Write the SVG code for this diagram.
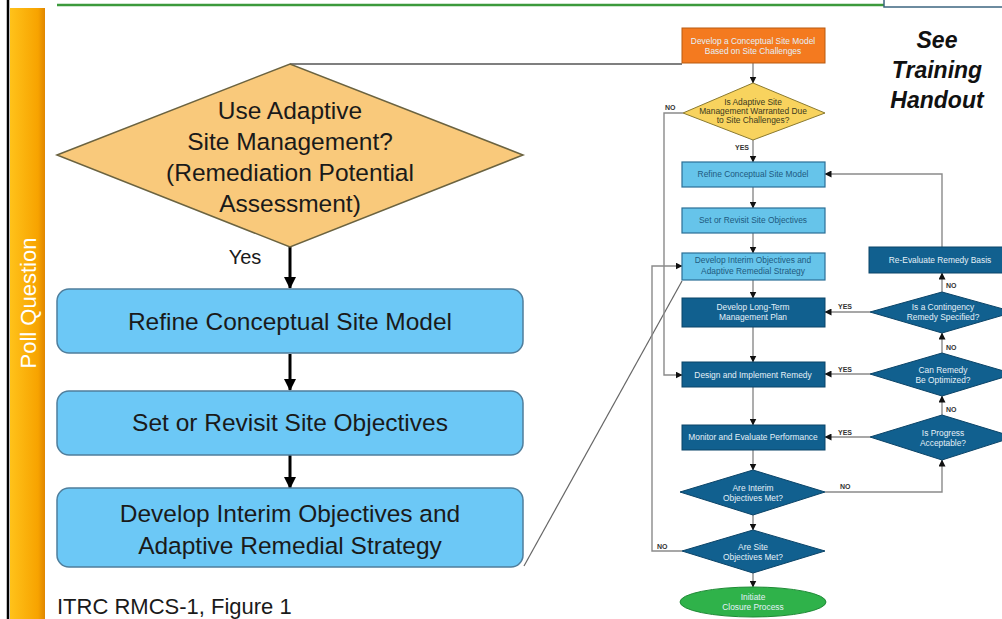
<svg xmlns="http://www.w3.org/2000/svg" width="1002" height="619" viewBox="0 0 1002 619">
<defs>
<linearGradient id="bar" x1="0" y1="0" x2="1" y2="0">
<stop offset="0" stop-color="#FFC21A"/>
<stop offset="0.8" stop-color="#F7A300"/>
<stop offset="1" stop-color="#E08600"/>
</linearGradient>
<marker id="big" markerUnits="userSpaceOnUse" markerWidth="12" markerHeight="12" refX="11" refY="6" orient="auto">
<path d="M0,0 L12,6 L0,12 Z" fill="#000"/>
</marker>
<marker id="sm" markerUnits="userSpaceOnUse" markerWidth="7" markerHeight="7" refX="6.5" refY="3.5" orient="auto">
<path d="M0,0 L7,3.5 L0,7 Z" fill="#111"/>
</marker>
</defs>
<style>
.big{font-family:"Liberation Sans",Arial,sans-serif;fill:#1a1a1a;text-anchor:middle}
.sm{font-family:"Liberation Sans",Arial,sans-serif;font-size:8.4px;text-anchor:middle}
.lb{fill:#1E5A80}
.wt{fill:#E4F0F8}
.lab{font-family:"Liberation Sans",Arial,sans-serif;font-size:7px;font-weight:bold;fill:#333}
.bbox{fill:#6CC8F6;stroke:#4F7E9C;stroke-width:1.5}
.lbox{fill:#66C4EA;stroke:#2A6F96;stroke-width:1.2}
.dbox{fill:#11608F;stroke:#0B4468;stroke-width:1}
.con{fill:none;stroke:#8A8A8A;stroke-width:1.4}
.bcon{fill:none;stroke:#000;stroke-width:3}
</style>
<rect width="1002" height="619" fill="#fff"/>
<!-- frame -->
<g id="frame">
<rect x="10" y="8" width="35" height="611" fill="url(#bar)"/>
<line x1="8" y1="0" x2="8" y2="619" stroke="#000" stroke-width="2.5"/>
<line x1="57" y1="5" x2="884" y2="5" stroke="#3C9A3C" stroke-width="2.5"/>
<rect x="884" y="-4" width="122" height="11" fill="#fff" stroke="#3D6580" stroke-width="1.5"/>
<text x="28" y="303" transform="rotate(-90 28 303)" font-family="'Liberation Sans',Arial,sans-serif" font-size="22" fill="#fff" text-anchor="middle" dominant-baseline="central">Poll Question</text>
</g>
<!-- connectors -->
<g id="connectors">
<line class="bcon" x1="290" y1="247" x2="290" y2="288" marker-end="url(#big)"/>
<line class="bcon" x1="290" y1="354" x2="290" y2="390" marker-end="url(#big)"/>
<line class="bcon" x1="290" y1="455" x2="290" y2="488" marker-end="url(#big)"/>
<polyline fill="none" stroke="#555" stroke-width="1.3" points="290,64 682,64"/>
<line x1="524" y1="566" x2="682" y2="281" stroke="#666" stroke-width="1.2"/>
<line class="con" x1="753" y1="63" x2="753" y2="83" marker-end="url(#sm)"/>
<line class="con" x1="753" y1="140" x2="753" y2="162" marker-end="url(#sm)"/>
<line class="con" x1="753" y1="187" x2="753" y2="208" marker-end="url(#sm)"/>
<line class="con" x1="753" y1="233" x2="753" y2="253" marker-end="url(#sm)"/>
<line class="con" x1="753" y1="280" x2="753" y2="298" marker-end="url(#sm)"/>
<line class="con" x1="753" y1="327" x2="753" y2="362" marker-end="url(#sm)"/>
<line class="con" x1="753" y1="387" x2="753" y2="425" marker-end="url(#sm)"/>
<line class="con" x1="753" y1="450" x2="753" y2="470" marker-end="url(#sm)"/>
<line class="con" x1="753" y1="515" x2="753" y2="530" marker-end="url(#sm)"/>
<line class="con" x1="753" y1="573" x2="753" y2="587" marker-end="url(#sm)"/>
<polyline class="con" points="683,113 664,113 664,375 682,375" marker-end="url(#sm)"/>
<polyline class="con" points="682,551 652,551 652,266 682,266" marker-end="url(#sm)"/>
<polyline class="con" points="825,492 942,492 942,460" marker-end="url(#sm)"/>
<line class="con" x1="942" y1="415" x2="942" y2="396" marker-end="url(#sm)"/>
<line class="con" x1="942" y1="353" x2="942" y2="333" marker-end="url(#sm)"/>
<line class="con" x1="942" y1="292" x2="942" y2="273" marker-end="url(#sm)"/>
<polyline class="con" points="942,247 942,174 825,174" marker-end="url(#sm)"/>
<line class="con" x1="870" y1="312" x2="825" y2="312" marker-end="url(#sm)"/>
<line class="con" x1="870" y1="374" x2="825" y2="374" marker-end="url(#sm)"/>
<line class="con" x1="870" y1="437" x2="825" y2="437" marker-end="url(#sm)"/>
<text class="big" x="245" y="264" font-size="20">Yes</text>
<text class="lab" x="665" y="110">NO</text>
<text class="lab" x="735" y="150">YES</text>
<text class="lab" x="838" y="309">YES</text>
<text class="lab" x="838" y="372">YES</text>
<text class="lab" x="838" y="435">YES</text>
<text class="lab" x="946" y="288">NO</text>
<text class="lab" x="946" y="350">NO</text>
<text class="lab" x="946" y="412">NO</text>
<text class="lab" x="840" y="489">NO</text>
<text class="lab" x="657" y="549">NO</text>
</g>
<!-- left flowchart -->
<g id="big-decision">
<polygon points="57,155 290,64 523,155 290,247" fill="#F9C97B" stroke="#6B6340" stroke-width="1.5"/>
<text class="big" font-size="24.5"><tspan x="290" y="119">Use Adaptive</tspan><tspan x="290" y="150">Site Management?</tspan><tspan x="290" y="181">(Remediation Potential</tspan><tspan x="290" y="212">Assessment)</tspan></text>
</g>
<g id="big-refine">
<rect class="bbox" x="57" y="289" width="466" height="64" rx="12"/>
<text class="big" x="290" y="330" font-size="24.5">Refine Conceptual Site Model</text>
</g>
<g id="big-set">
<rect class="bbox" x="57" y="391" width="466" height="64" rx="12"/>
<text class="big" x="290" y="431" font-size="24.5">Set or Revisit Site Objectives</text>
</g>
<g id="big-develop">
<rect class="bbox" x="57" y="488" width="466" height="79" rx="12"/>
<text class="big" font-size="24.5"><tspan x="290" y="522">Develop Interim Objectives and</tspan><tspan x="290" y="554">Adaptive Remedial Strategy</tspan></text>
</g>
<text id="caption" x="57" y="614" font-family="'Liberation Sans',Arial,sans-serif" font-size="22" fill="#1a1a1a">ITRC RMCS-1, Figure 1</text>
<text id="handout" font-family="'Liberation Sans',Arial,sans-serif" font-size="23" font-weight="bold" font-style="italic" fill="#111" text-anchor="middle"><tspan x="937" y="48">See</tspan><tspan x="937" y="78">Training</tspan><tspan x="937" y="108">Handout</tspan></text>
<!-- right flowchart -->
<g id="r-start">
<rect x="682" y="28" width="143" height="35" fill="#F47A1F" stroke="#B85A10" stroke-width="1"/>
<text class="sm wt"><tspan x="753" y="44">Develop a Conceptual Site Model</tspan><tspan x="753" y="54">Based on Site Challenges</tspan></text>
</g>
<g id="r-adaptive">
<polygon points="683,113 753,83 825,113 753,140" fill="#F8D35E" stroke="#8A7A30" stroke-width="1"/>
<text class="sm" fill="#3A3A20"><tspan x="753" y="105">Is Adaptive Site</tspan><tspan x="753" y="114">Management Warranted Due</tspan><tspan x="753" y="123">to Site Challenges?</tspan></text>
</g>
<g id="r-refine">
<rect class="lbox" x="682" y="162" width="143" height="25"/>
<text class="sm lb" x="753" y="177">Refine Conceptual Site Model</text>
</g>
<g id="r-set">
<rect class="lbox" x="682" y="208" width="143" height="25"/>
<text class="sm lb" x="753" y="223">Set or Revisit Site Objectives</text>
</g>
<g id="r-interim">
<rect class="lbox" x="682" y="253" width="143" height="27"/>
<text class="sm lb"><tspan x="753" y="263">Develop Interim Objectives and</tspan><tspan x="753" y="274">Adaptive Remedial Strategy</tspan></text>
</g>
<g id="r-longterm">
<rect class="dbox" x="682" y="298" width="143" height="29"/>
<text class="sm wt"><tspan x="753" y="310">Develop Long-Term</tspan><tspan x="753" y="320">Management Plan</tspan></text>
</g>
<g id="r-design">
<rect class="dbox" x="682" y="362" width="143" height="25"/>
<text class="sm wt" x="753" y="378">Design and Implement Remedy</text>
</g>
<g id="r-monitor">
<rect class="dbox" x="682" y="425" width="143" height="25"/>
<text class="sm wt" x="753" y="440">Monitor and Evaluate Performance</text>
</g>
<g id="r-are-interim">
<polygon class="dbox" points="680,492 753,470 825,492 753,515"/>
<text class="sm wt"><tspan x="753" y="491">Are Interim</tspan><tspan x="753" y="501">Objectives Met?</tspan></text>
</g>
<g id="r-are-site">
<polygon class="dbox" points="682,551 753,530 825,551 753,573"/>
<text class="sm wt"><tspan x="753" y="550">Are Site</tspan><tspan x="753" y="560">Objectives Met?</tspan></text>
</g>
<g id="r-closure">
<ellipse cx="753" cy="602" rx="73" ry="15" fill="#2FB24A" stroke="#1E8A35" stroke-width="1"/>
<text class="sm wt"><tspan x="753" y="600">Initiate</tspan><tspan x="753" y="610">Closure Process</tspan></text>
</g>
<g id="r-reevaluate">
<rect class="dbox" x="869" y="247" width="140" height="26"/>
<text class="sm wt" x="940" y="263">Re-Evaluate Remedy Basis</text>
</g>
<g id="r-contingency">
<polygon class="dbox" points="870,312 942,292 1014,312 942,333"/>
<text class="sm wt"><tspan x="943" y="310">Is a Contingency</tspan><tspan x="943" y="320">Remedy Specified?</tspan></text>
</g>
<g id="r-optimize">
<polygon class="dbox" points="870,374 942,353 1014,374 942,396"/>
<text class="sm wt"><tspan x="943" y="373">Can Remedy</tspan><tspan x="943" y="383">Be Optimized?</tspan></text>
</g>
<g id="r-progress">
<polygon class="dbox" points="870,437 942,415 1014,437 942,460"/>
<text class="sm wt"><tspan x="943" y="436">Is Progress</tspan><tspan x="943" y="446">Acceptable?</tspan></text>
</g>
</svg>
